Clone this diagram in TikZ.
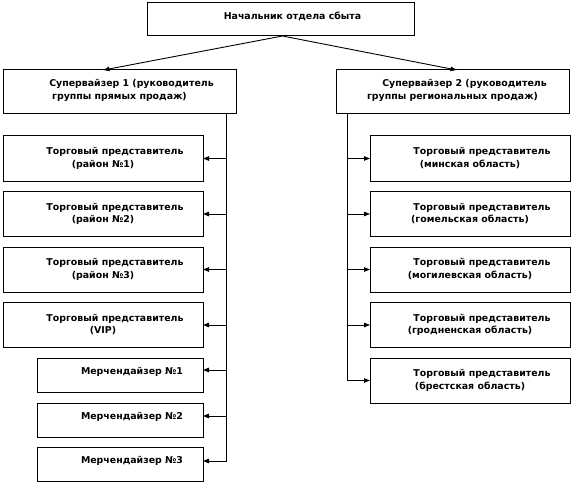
\documentclass[tikz,border=0pt]{standalone}
\usepackage{fontspec}
\setmainfont{DejaVu Sans}
\usetikzlibrary{arrows.meta,positioning}

\newcommand\firstln{\hspace*{24pt}}

\begin{document}
\begin{tikzpicture}[
  x=1pt, y=-1pt,
  font=\fontsize{9.4}{12.5}\selectfont\bfseries,
  line width=0.9pt,
  node distance=10.5pt,
  box/.style ={draw,line width=1pt,inner sep=0pt,outer sep=0pt,anchor=north west},
  sup/.style ={box,minimum width=233pt,minimum height=44pt},
  rep/.style ={box,minimum width=200pt,minimum height=45pt},
  mer/.style ={box,minimum width=166pt,minimum height=34pt},
  txt/.style ={anchor=north,align=center,inner sep=0pt},
  >={Triangle[length=6pt,width=4.5pt]}]

\useasboundingbox (0,0) rectangle (573,484);

% ---------- head ----------
\node[box,minimum width=267pt,minimum height=33pt] (head) at (147,3) {};
\node[txt] (head-t) at ([yshift=-9pt]head.north) {\firstln Начальник отдела сбыта};

% ---------- supervisors ----------
\node[sup] (sup1) at (3,70) {};
\node[sup] (sup2) at (336,70) {};
\node[txt] (sup1-t) at ([yshift=-9pt]sup1.north) {\firstln Супервайзер 1 (руководитель\\группы прямых продаж)};
\node[txt] (sup2-t) at ([yshift=-9pt]sup2.north) {\firstln Супервайзер 2 (руководитель\\группы региональных продаж)};

\draw[->] ([xshift=2pt]head.south) -- ([xshift=-16pt]sup1.north);
\draw[->] ([xshift=2pt]head.south) -- ([xshift=4pt]sup2.north);

% ---------- left column ----------
\node[rep] (tp1) at (3,136) {};
\node[rep,below=of tp1] (tp2) {};
\node[rep,below=of tp2] (tp3) {};
\node[rep,below=of tp3] (tp4) {};
\node[mer,below=of tp4.south east,anchor=north east] (m1) {};
\node[mer,below=11pt of m1] (m2) {};
\node[mer,below=10pt of m2] (m3) {};

\node[txt] at ([yshift=-11pt]tp1.north) {\firstln Торговый представитель\\(район №1)};
\node[txt] at ([yshift=-11pt]tp2.north) {\firstln Торговый представитель\\(район №2)};
\node[txt] at ([yshift=-11pt]tp3.north) {\firstln Торговый представитель\\(район №3)};
\node[txt] at ([yshift=-11pt]tp4.north) {\firstln Торговый представитель\\(VIP)};
\node[txt] at ([yshift=-9pt]m1.north) {\firstln Мерчендайзер №1};
\node[txt] at ([yshift=-9pt]m2.north) {\firstln Мерчендайзер №2};
\node[txt] at ([yshift=-9pt]m3.north) {\firstln Мерчендайзер №3};

\coordinate (t1) at ([xshift=-10pt]sup1.south east);
\draw[->] (t1) |- ([yshift=3pt]m3.east);
\draw[->] (t1 |- tp1.east) -- (tp1.east);
\draw[->] (t1 |- tp2.east) -- (tp2.east);
\draw[->] (t1 |- tp3.east) -- (tp3.east);
\draw[->] (t1 |- tp4.east) -- (tp4.east);
\draw[->] ([yshift=5pt]m1.east -| t1) -- ([yshift=5pt]m1.east);
\draw[->] ([yshift=4pt]m2.east -| t1) -- ([yshift=4pt]m2.east);

% ---------- right column ----------
\node[rep] (r1) at (370,136) {};
\node[rep,below=of r1] (r2) {};
\node[rep,below=of r2] (r3) {};
\node[rep,below=of r3] (r4) {};
\node[rep,below=of r4] (r5) {};

\node[txt] at ([yshift=-11pt]r1.north) {\firstln Торговый представитель\\(минская область)};
\node[txt] at ([yshift=-11pt]r2.north) {\firstln Торговый представитель\\(гомельская область)};
\node[txt] at ([yshift=-11pt]r3.north) {\firstln Торговый представитель\\(могилевская область)};
\node[txt] at ([yshift=-11pt]r4.north) {\firstln Торговый представитель\\(гродненская область)};
\node[txt] at ([yshift=-11pt]r5.north) {\firstln Торговый представитель\\(брестская область)};

\coordinate (t2) at ([xshift=11pt]sup2.south west);
\draw[->] (t2) |- (r5.west);
\draw[->] (t2 |- r1.west) -- (r1.west);
\draw[->] (t2 |- r2.west) -- (r2.west);
\draw[->] (t2 |- r3.west) -- (r3.west);
\draw[->] (t2 |- r4.west) -- (r4.west);

\end{tikzpicture}
\end{document}
